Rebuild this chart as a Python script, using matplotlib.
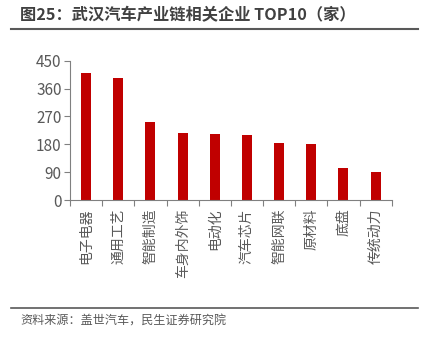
import numpy as np
import matplotlib.pyplot as plt
from matplotlib.lines import Line2D

plt.rcParams['font.family'] = ['Noto Sans CJK SC', 'DejaVu Sans']

# data
categories = ['电子电器', '通用工艺', '智能制造', '车身内外饰', '电动化',
              '汽车芯片', '智能网联', '原材料', '底盘', '传统动力']
counts = [410, 393, 253, 218, 212, 209, 184, 181, 103, 91]
yticks = [0, 90, 180, 270, 360, 450]

fig = plt.figure(figsize=(4.26, 3.42), dpi=100)
ax = fig.add_axes([0.1643, 0.4152, 0.7552, 0.4073])

x = np.arange(len(categories))
ax.bar(x, counts, width=0.31, color='#C00000')

ax.set_xlim(-0.5, len(categories) - 0.5)
ax.set_ylim(0, 450)
ax.set_yticks(yticks)
ax.tick_params(axis='y', colors='#808080', labelcolor='#595959', labelsize=11,
               length=4, width=0.8, pad=2)

ax.set_xticks(x)
ax.set_xticklabels(categories, rotation=90, fontsize=10, color='#595959')
ax.tick_params(axis='x', which='major', length=0, pad=6)
ax.set_xticks(np.arange(-0.5, len(categories)), minor=True)
ax.tick_params(axis='x', which='minor', length=4, width=0.8, color='#808080')

for s in ['top', 'right']:
    ax.spines[s].set_visible(False)
for s in ['left', 'bottom']:
    ax.spines[s].set_color('#808080')
    ax.spines[s].set_linewidth(0.8)

# title and footer
fig.text(0.047, 0.956, '图25：武汉汽车产业链相关企业 TOP10（家）', fontsize=11.7,
         fontweight='bold', color='#404040', va='center', ha='left')
fig.add_artist(Line2D([0.026, 0.981], [0.915, 0.915], color='#595959', lw=1.5))
fig.add_artist(Line2D([0.026, 0.981], [0.0994, 0.0994], color='#595959', lw=1.2))
fig.text(0.047, 0.062, '资料来源：盖世汽车，民生证券研究院', fontsize=8.7,
         color='#595959', va='center', ha='left')

fig.savefig('out.png', dpi=100)
